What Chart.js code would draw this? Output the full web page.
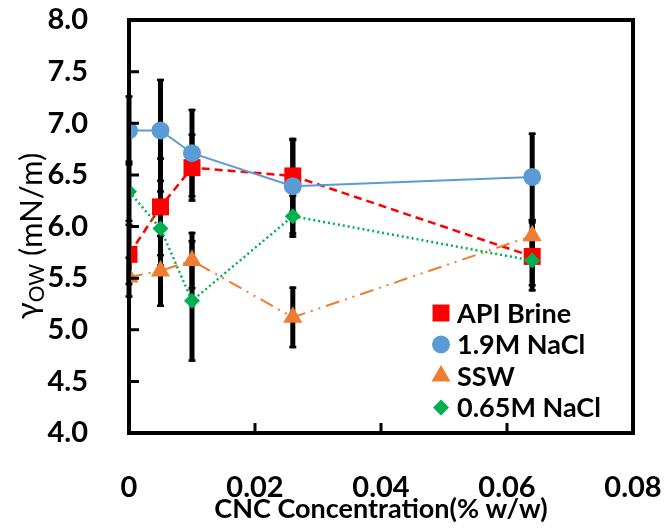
<!DOCTYPE html>
<html>
<head>
<meta charset="utf-8">
<script src="https://cdn.jsdelivr.net/npm/chart.js@4.4.1/dist/chart.umd.min.js"></script>
<style>
  html, body { margin: 0; padding: 0; background: #fff; }
  #wrap { width: 665px; height: 529px; }
</style>
</head>
<body>
<div id="wrap"><canvas id="ift-chart" width="665" height="529"></canvas></div>
<script>
// CNC concentration (% w/w)
const cncConc = [0, 0.005, 0.01, 0.026, 0.064];

// interfacial tension (mN/m) and standard deviation per brine
const apiBrine = [5.73, 6.19, 6.57, 6.49, 5.71];
const apiBrineErr = [0.30, 0.48, 0.33, 0.36, 0.34];
const nacl19 = [6.93, 6.93, 6.71, 6.39, 6.48];
const nacl19Err = [0.34, 0.50, 0.43, 0.47, 0.43];
const ssw = [5.51, 5.57, 5.67, 5.12, 5.91];
const sswErr = [0.20, 0.35, 0.28, 0.30, 0.16];
const nacl065 = [6.34, 5.98, 5.28, 6.10, 5.67];
const nacl065Err = [0.30, 0.37, 0.59, 0.21, 0.25];

const xTicks = [0, 0.02, 0.04, 0.06, 0.08];
const yTicks = [4.0, 4.5, 5.0, 5.5, 6.0, 6.5, 7.0, 7.5, 8.0];

const FONT = 'Lato, "Open Sans", sans-serif';

function pts(ys) {
  return cncConc.map((x, i) => ({ x: x, y: ys[i] }));
}

const seriesList = [
  { label: 'API Brine', data: apiBrine, err: apiBrineErr, color: '#FF0000', style: 'rect', r: 12, dash: [8, 5], width: 2.5, order: 3 },
  { label: '1.9M NaCl', data: nacl19, err: nacl19Err, color: '#5B9BD5', style: 'circle', r: 9, dash: [], width: 2, order: 1 },
  { label: 'SSW', data: ssw, err: sswErr, color: '#ED7D31', style: 'triangle', r: 11, dash: [14, 6, 2, 6, 2, 6], width: 2, order: 2 },
  { label: '0.65M NaCl', data: nacl065, err: nacl065Err, color: '#00B050', style: 'rectRot', r: 8, dash: [2, 3], width: 2.5, order: 0 }
];

// error bars under the markers
const errorBars = {
  id: 'errorBars',
  beforeDatasetsDraw(chart) {
    const ctx = chart.ctx;
    const xs = chart.scales.x, ys = chart.scales.y;
    ctx.save();
    ctx.strokeStyle = '#000';
    seriesList.forEach(s => {
      s.data.forEach((v, i) => {
        const px = xs.getPixelForValue(cncConc[i]);
        const top = ys.getPixelForValue(v + s.err[i]);
        const bot = ys.getPixelForValue(v - s.err[i]);
        ctx.lineWidth = 5;
        ctx.beginPath();
        ctx.moveTo(px, top);
        ctx.lineTo(px, bot);
        ctx.stroke();
        ctx.lineWidth = 2.5;
        ctx.beginPath();
        ctx.moveTo(px - 3.5, top + 1.25);
        ctx.lineTo(px + 3.5, top + 1.25);
        ctx.moveTo(px - 3.5, bot - 1.25);
        ctx.lineTo(px + 3.5, bot - 1.25);
        ctx.stroke();
      });
    });
    ctx.restore();
  }
};

function drawMarker(ctx, style, x, y, r, color) {
  ctx.fillStyle = color;
  ctx.beginPath();
  if (style === 'rect') {
    const h = Math.SQRT1_2 * r;
    ctx.rect(x - h, y - h, 2 * h, 2 * h);
  } else if (style === 'circle') {
    ctx.arc(x, y, r, 0, Math.PI * 2);
  } else if (style === 'triangle') {
    ctx.moveTo(x, y - r);
    ctx.lineTo(x + r * Math.sin(Math.PI / 3), y + r * 0.5);
    ctx.lineTo(x - r * Math.sin(Math.PI / 3), y + r * 0.5);
    ctx.closePath();
  } else {
    ctx.moveTo(x - r, y);
    ctx.lineTo(x, y - r);
    ctx.lineTo(x + r, y);
    ctx.lineTo(x, y + r);
    ctx.closePath();
  }
  ctx.fill();
}

// frame, inward ticks, legend box and y title
const frame = {
  id: 'frame',
  afterDraw(chart) {
    const ctx = chart.ctx;
    const a = chart.chartArea;
    const xs = chart.scales.x, ys = chart.scales.y;
    ctx.save();
    ctx.strokeStyle = '#000';
    ctx.lineWidth = 4;
    ctx.strokeRect(a.left, a.top, a.right - a.left, a.bottom - a.top);

    ctx.lineWidth = 3;
    ctx.beginPath();
    yTicks.forEach(t => {
      const py = ys.getPixelForValue(t);
      ctx.moveTo(a.left, py);
      ctx.lineTo(a.left + 10, py);
    });
    xTicks.forEach(t => {
      const px = xs.getPixelForValue(t);
      ctx.moveTo(px, a.bottom);
      ctx.lineTo(px, a.bottom - 10);
    });
    ctx.stroke();

    // legend
    ctx.font = 'bold 27px ' + FONT;
    ctx.textBaseline = 'middle';
    ctx.textAlign = 'left';
    seriesList.forEach((s, i) => {
      const ly = 313 + i * 31.5;
      drawMarker(ctx, s.style, 441, ly, s.r, s.color);
      ctx.fillStyle = '#000';
      ctx.fillText(s.label, 457, ly + 1);
    });

    // y axis title with subscript
    ctx.translate(32, 236);
    ctx.rotate(-Math.PI / 2);
    const gam = 'γ', sub = 'OW', unit = ' (mN/m)';
    ctx.font = '31px ' + FONT;
    const wG = ctx.measureText(gam).width;
    const wU = ctx.measureText(unit).width;
    ctx.font = '21px ' + FONT;
    const wS = ctx.measureText(sub).width;
    let x0 = -(wG + wS + wU) / 2;
    ctx.fillStyle = '#000';
    ctx.textBaseline = 'alphabetic';
    ctx.font = '31px ' + FONT;
    ctx.fillText(gam, x0, 6);
    ctx.font = '21px ' + FONT;
    ctx.fillText(sub, x0 + wG, 12);
    ctx.font = '31px ' + FONT;
    ctx.fillText(unit, x0 + wG + wS, 10);
    ctx.restore();
  }
};

// keep edge labels from shrinking the plot area
function noEdgePadding(scale) {
  scale.paddingLeft = 0;
  scale.paddingRight = 0;
  scale.paddingTop = 0;
  scale.paddingBottom = 0;
}

const ctx = document.getElementById('ift-chart').getContext('2d');
new Chart(ctx, {
  type: 'scatter',
  data: {
    datasets: seriesList.map(s => ({
      label: s.label,
      data: pts(s.data),
      showLine: true,
      borderColor: s.color,
      backgroundColor: s.color,
      borderWidth: s.width,
      borderDash: s.dash,
      pointStyle: s.style,
      pointRadius: s.r,
      pointHoverRadius: s.r,
      pointBorderWidth: 0,
      order: s.order
    }))
  },
  options: {
    responsive: false,
    animation: false,
    events: [],
    layout: { autoPadding: false, padding: { top: 20, right: 32, left: 0, bottom: 0 } },
    plugins: {
      legend: { display: false },
      tooltip: { enabled: false }
    },
    scales: {
      x: {
        type: 'linear',
        min: 0,
        max: 0.08,
        afterFit(scale) { scale.height = 96; noEdgePadding(scale); },
        afterBuildTicks(scale) { scale.ticks = xTicks.map(v => ({ value: v })); },
        grid: { display: false },
        border: { display: false },
        ticks: {
          padding: 29,
          color: '#000',
          font: { family: FONT, size: 29, weight: 'bold' },
          maxRotation: 0,
          callback: v => (v === 0 ? '0' : v.toFixed(2))
        },
        title: {
          display: true,
          text: 'CNC Concentration(% w/w)',
          color: '#000',
          font: { family: FONT, size: 27, weight: 'bold' },
          padding: { top: 0, bottom: 4 }
        }
      },
      y: {
        min: 4,
        max: 8,
        afterFit(scale) { scale.width = 129; noEdgePadding(scale); },
        afterBuildTicks(scale) { scale.ticks = yTicks.map(v => ({ value: v })); },
        grid: { display: false },
        border: { display: false },
        ticks: {
          padding: 33,
          color: '#000',
          font: { family: FONT, size: 29, weight: 'bold' },
          callback: v => v.toFixed(1)
        }
      }
    }
  },
  plugins: [errorBars, frame]
});
</script>
</body>
</html>
